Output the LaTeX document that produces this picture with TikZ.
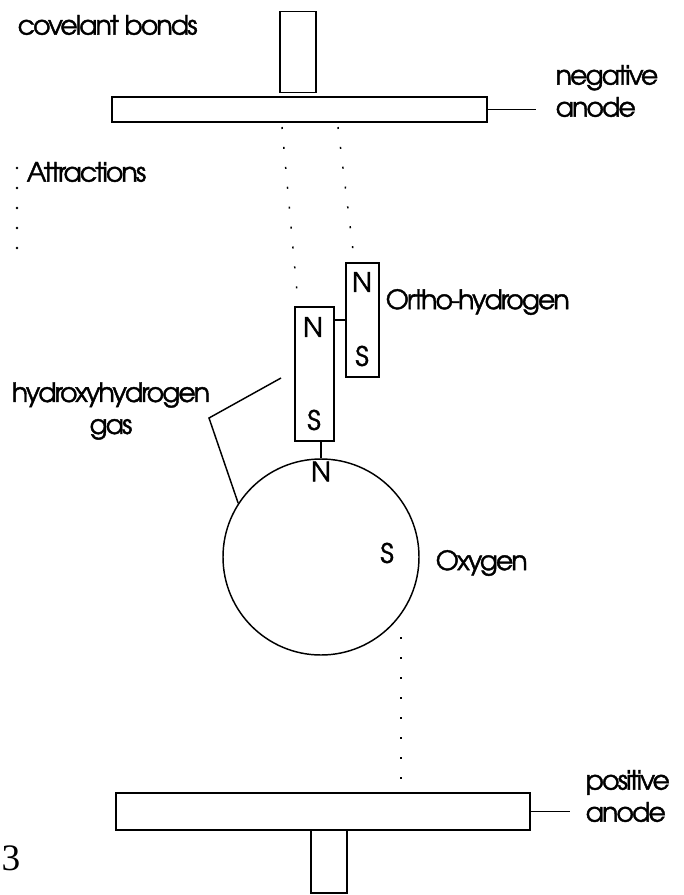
\documentclass[tikz,border=0pt]{standalone}
\usepackage{fontspec}
\setmainfont{TeX Gyre Adventor}[LetterSpace=-7,FakeBold=1.6]
\newfontfamily\numfont{Liberation Serif}
\usetikzlibrary{positioning}

\begin{document}
\begin{tikzpicture}[x=0.75pt,y=-0.75pt,line width=1.1pt,
    lbl/.style={inner sep=0pt,anchor=west,font=\fontsize{20}{24}\selectfont},
    pole/.style={inner sep=0pt,font=\fontsize{20}{20}\selectfont},
    bar/.style={draw,rectangle,inner sep=0pt},
    attract/.style={dash pattern=on 1.5pt off 13.5pt,line width=1.1pt}]
    \useasboundingbox (0,0) rectangle (684,895);

    % Negative anode (top)
    \node[bar,minimum width=27pt,minimum height=60.75pt] (topstem) at (298,52) {};
    \node[bar,minimum width=281.25pt,minimum height=18.75pt] (topplate) at (299.5,109.5) {};
    \node[lbl] at (17,25) {covelant bonds};
    \node[lbl,align=left] (neglabel) at (555,91) {negative\\anode};
    \coordinate (negend) at (536,109.5);
    \draw (topplate.east) -- (negend);

    % Attractions
    \node[lbl] (attrlabel) at (26,172) {Attractions};
    \foreach \y in {168,188,...,248}
        \fill (17,\y) circle (1.4);
    \coordinate (a1) at (282,127);
    \coordinate (a2) at (297,292);
    \coordinate (b1) at (338,127);
    \coordinate (b2) at (353,250);
    \draw[attract] (a1) -- (a2);
    \draw[attract] (b1) -- (b2);

    % Ortho-hydrogen
    \node[bar,minimum width=24.75pt,minimum height=85.5pt] (ortho) at (362.5,320) {};
    \node[pole] (orthoN) at (362,282) {N};
    \node[pole] (orthoS) at (362,356) {S};
    \node[lbl] (ortholabel) at (385,302) {Ortho-hydrogen};

    % Hydroxyhydrogen gas
    \node[bar,minimum width=29.25pt,minimum height=100.5pt] (hydroxy) at (314.5,374) {};
    \node[pole] (hydroxyN) at (313,327) {N};
    \node[pole] (hydroxyS) at (314,420) {S};
    \draw (ortho.west) -- (ortho.west -| hydroxy.east);
    \node[lbl,anchor=center,align=center] (hydlabel) at (111,411) {hydroxyhydrogen\\gas};

    % Oxygen
    \node[draw,circle,minimum size=147pt,inner sep=0pt] (oxygen) at (321,557) {};
    \draw (oxygen.north |- hydroxy.south) -- (oxygen.north);
    \node[pole,below=2pt of oxygen.north] (oxygenN) {N};
    \node[pole] (oxygenS) at (387,553) {S};
    \node[lbl] (oxylabel) at (435,563) {Oxygen};
    \coordinate (bracket) at (281,378);
    \draw (bracket) -- (209,418) -- (oxygen.147);
    \coordinate (c1) at (401,637);
    \coordinate (c2) at (401,784);
    \draw[attract] (c1) -- (c2);

    % Positive anode (bottom)
    \node[bar,minimum width=310.5pt,minimum height=27.75pt] (botplate) at (323,811.5) {};
    \node[bar,minimum width=27pt,minimum height=47.25pt] (botstem) at (329,861.5) {};
    \node[lbl,align=left] (poslabel) at (585,796) {positive\\anode};
    \coordinate (posend) at (570,811.5);
    \draw (botplate.east) -- (posend);
    \node[inner sep=0pt,font=\numfont\fontsize{28}{28}\selectfont] (fignum) at (11,858) {3};
\end{tikzpicture}
\end{document}
